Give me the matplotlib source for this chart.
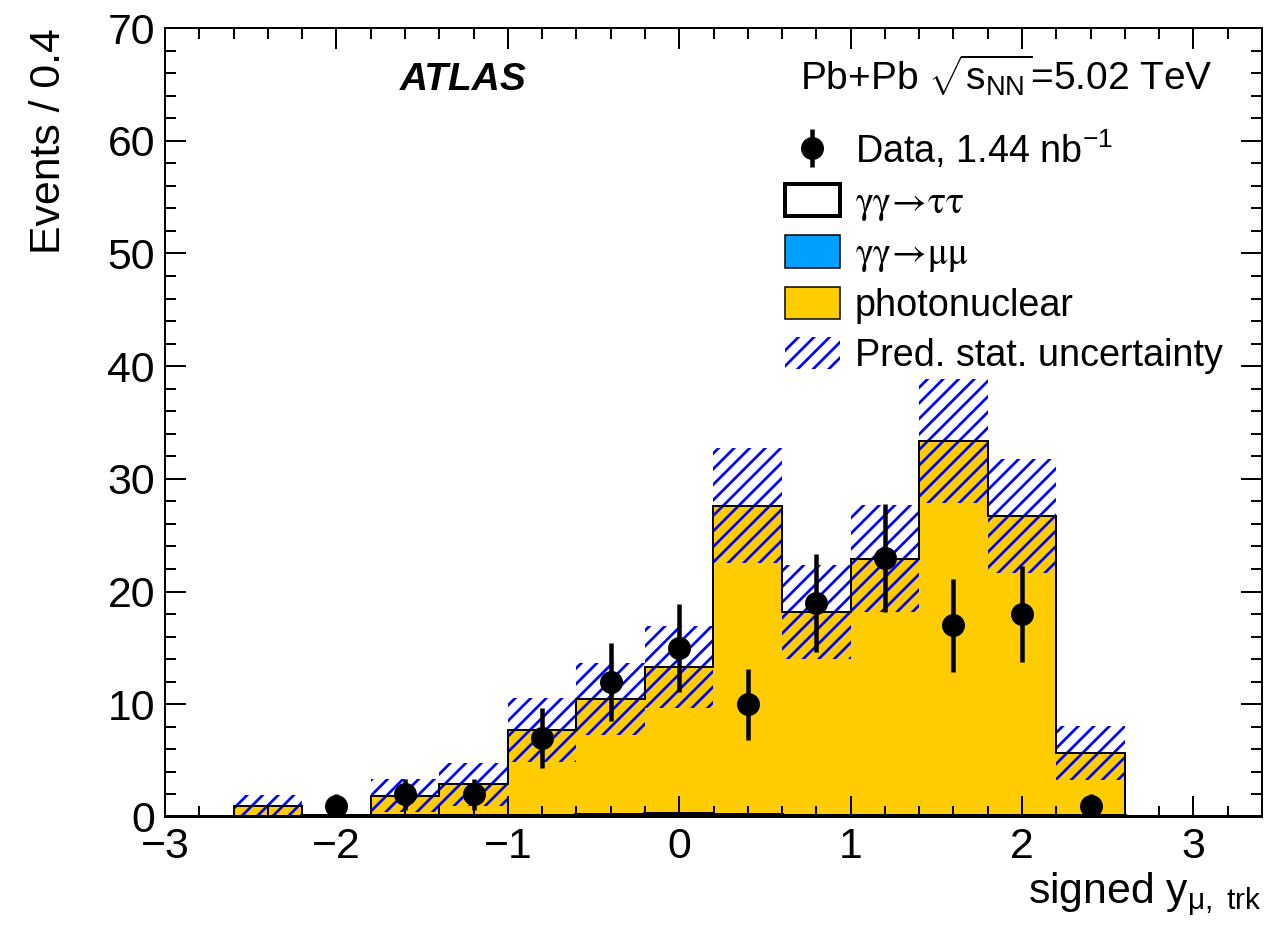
import numpy as np
import matplotlib
matplotlib.use("Agg")
import matplotlib.pyplot as plt
from matplotlib.patches import Patch

# ---------------- data ----------------
bin_edges = [-3.0, -2.6, -2.2, -1.8, -1.4, -1.0, -0.6, -0.2, 0.2, 0.6, 1.0, 1.4, 1.8, 2.2, 2.6, 3.0, 3.4]
tautau = [0.0, 0.02, 0.05, 0.05, 0.08, 0.12, 0.18, 0.3, 0.15, 0.12, 0.1, 0.1, 0.05, 0.05, 0.0, 0.0]
mumu = [0.0, 0.0, 0.02, 0.02, 0.03, 0.05, 0.05, 0.05, 0.05, 0.05, 0.05, 0.05, 0.03, 0.02, 0.0, 0.0]
photonuclear = [0.0, 0.98, 0.13, 1.83, 2.79, 7.53, 10.27, 12.95, 27.4, 18.03, 22.75, 33.25, 26.62, 5.63, 0.0, 0.0]
pred_unc = [0.0, 0.97, 0.1, 1.5, 1.9, 2.85, 3.2, 3.65, 5.1, 4.2, 4.75, 5.5, 5.05, 2.4, 0.0, 0.0]

data_x = [-2.0, -1.6, -1.2, -0.8, -0.4, 0.0, 0.4, 0.8, 1.2, 1.6, 2.0, 2.4]
data_y = [1, 2, 2, 7, 12, 15, 10, 19, 23, 17, 18, 1]

x_ticks = [-3, -2, -1, 0, 1, 2, 3]
y_ticks = [0, 10, 20, 30, 40, 50, 60, 70]

# ---------------- style ----------------
DPI = 140
def px(v):
    return v * 72.0 / DPI

plt.rcParams['font.family'] = ['Liberation Sans', 'DejaVu Sans']
plt.rcParams['mathtext.fontset'] = 'custom'
plt.rcParams['mathtext.rm'] = 'Liberation Sans'
plt.rcParams['mathtext.it'] = 'Liberation Sans:italic'
plt.rcParams['mathtext.bf'] = 'Liberation Sans:bold'
plt.rcParams['mathtext.sf'] = 'Liberation Sans'
plt.rcParams['hatch.linewidth'] = px(2.7)
plt.rcParams['axes.unicode_minus'] = True

YELLOW = '#FFCC00'
BLUE_MUMU = '#00A0FF'
HATCH_BLUE = '#0000FF'

fig = plt.figure(figsize=(1280 / DPI, 929 / DPI), dpi=DPI)
ax = fig.add_axes([165 / 1280, 1 - 817 / 929, (1262 - 165) / 1280, (817 - 28) / 929])

edges = np.array(bin_edges)
tt = np.array(tautau)
mm = np.array(mumu)
pn = np.array(photonuclear)
s1 = tt
s2 = tt + mm
total = tt + mm + pn
unc = np.array(pred_unc)

# stacked histograms
ax.stairs(s2, edges, baseline=s1, fill=True, color=BLUE_MUMU, zorder=1)
ax.stairs(total, edges, baseline=s2, fill=True, color=YELLOW, zorder=1)

# uncertainty hatch
lo = np.clip(total - unc, 0, None)
hi = total + unc
ax.fill_between(edges, np.r_[lo, lo[-1]], np.r_[hi, hi[-1]], step='post',
                facecolor='none', edgecolor=HATCH_BLUE, hatch='///', linewidth=0, zorder=2)

# outlines
ax.stairs(total, edges, color='black', linewidth=px(2), zorder=3)
ax.stairs(tt, edges, color='black', linewidth=px(4), zorder=3)

# data
err = ax.errorbar(data_x, data_y, yerr=np.sqrt(np.array(data_y, dtype=float)), fmt='o',
                  color='black', markersize=px(21), elinewidth=px(4.5), capsize=0, zorder=5)

ax.set_xlim(-3.0, 3.4)
ax.set_ylim(0, 70)
ax.set_xticks(x_ticks)
ax.set_yticks(y_ticks)
ax.set_xticks(np.arange(-3.0, 3.41, 0.2), minor=True)
ax.set_yticks(np.arange(0, 70.1, 2), minor=True)
ax.tick_params(which='both', direction='in', top=True, right=True, width=px(2))
ax.tick_params(which='major', length=px(21))
ax.tick_params(which='minor', length=px(11))
ax.tick_params(axis='both', labelsize=22)
ax.tick_params(axis='x', pad=px(10))
ax.tick_params(axis='y', pad=px(10))
for sp in ax.spines.values():
    sp.set_linewidth(px(2))

ax.set_xlabel(r'signed y$_{\mathrm{\mu,\ trk}}$', fontsize=22, loc='right', labelpad=px(4))
ax.set_ylabel('Events / 0.4', fontsize=22, loc='top', labelpad=px(38))

ax.text(0.214, 0.921, 'ATLAS', transform=ax.transAxes, fontsize=20,
        fontweight='bold', fontstyle='italic', ha='left', va='baseline')
ax.text(0.579, 0.921, r'Pb+Pb $\sqrt{\mathrm{s}_{\mathrm{NN}}}$=5.02 TeV', transform=ax.transAxes,
        fontsize=20, ha='left', va='baseline')

handles = [
    err,
    Patch(facecolor='white', edgecolor='black', linewidth=px(4)),
    Patch(facecolor=BLUE_MUMU, edgecolor='black', linewidth=px(1.5)),
    Patch(facecolor=YELLOW, edgecolor='black', linewidth=px(1.5)),
    Patch(facecolor='none', edgecolor=HATCH_BLUE, hatch='///', linewidth=0),
]
labels = [r'Data, 1.44 nb$^{-1}$',
          r'$\mathrm{\gamma\gamma}\!\rightarrow\!\mathrm{\tau\tau}$',
          r'$\mathrm{\gamma\gamma}\!\rightarrow\!\mathrm{\mu\mu}$',
          'photonuclear', 'Pred. stat. uncertainty']
leg = ax.legend(handles, labels, loc='upper left', bbox_to_anchor=(0.565, 0.873),
                frameon=False, fontsize=19.4, handlelength=1.46, handleheight=0.93,
                handletextpad=0.4, labelspacing=0.34, borderpad=0, borderaxespad=0)
for t in leg.get_texts()[1:3]:
    t.set_math_fontfamily('stix')

fig.savefig('out.png', dpi=DPI)
